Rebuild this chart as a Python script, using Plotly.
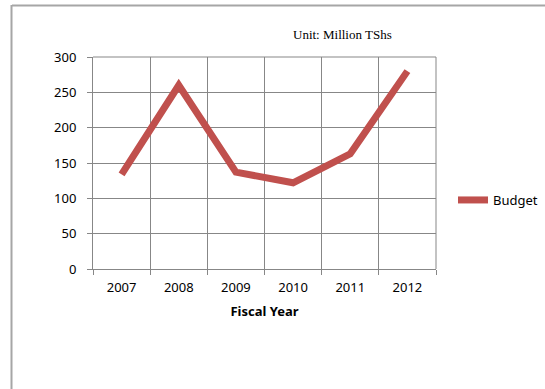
import plotly.graph_objects as go

years = ["2007", "2008", "2009", "2010", "2011", "2012"]
budget = [134, 260, 137, 122, 163, 280]
y_ticks = [0, 50, 100, 150, 200, 250, 300]

W, H = 545, 389
L, R, T, B = 93, 109, 57, 120
pw, ph = W - L - R, H - T - B
LEG_X = 453

def px_x(p):
    return (p - L) / pw

def px_y(p):
    return (H - B - p) / ph

fig = go.Figure()
fig.add_trace(go.Scatter(
    x=years, y=budget, mode="lines", name="Budget",
    line=dict(color="#C0504D", width=7),
))

grid = "#878787"
fig.update_layout(
    width=W, height=H,
    margin=dict(l=L, r=R, t=T, b=B),
    paper_bgcolor="white", plot_bgcolor="white",
    font=dict(family="Noto Sans", size=13, color="black"),
    showlegend=True,
    legend=dict(xref="container", yref="container",
                x=LEG_X / W, y=(H - 200) / H, xanchor="left", yanchor="middle",
                font=dict(size=13), bgcolor="rgba(0,0,0,0)",
                itemwidth=30),
    xaxis=dict(type="category", tickson="boundaries", showgrid=True,
               range=[-0.5, len(years) - 0.5],
               gridcolor=grid, gridwidth=1, showline=True, linecolor=grid,
               ticks="outside", ticklen=5, tickcolor=grid, mirror=False,
               ticklabelstandoff=6,
               title=dict(text="<b>Fiscal Year</b>", font=dict(size=13), standoff=12),
               tickfont=dict(size=13)),
    yaxis=dict(range=[0, 300], tickvals=y_ticks, showgrid=True,
               gridcolor=grid, gridwidth=1, showline=True, linecolor=grid,
               ticks="outside", ticklen=5, tickcolor=grid, zeroline=False,
               ticklabelstandoff=8,
               tickfont=dict(size=13)),
    annotations=[dict(text="Unit: Million TShs", x=px_x(342), y=px_y(35),
                      xref="paper", yref="paper", showarrow=False,
                      xanchor="center", yanchor="middle",
                      font=dict(family="Liberation Serif", size=13, color="black"))],
    shapes=[
        dict(type="line", xref="paper", yref="paper", x0=px_x(12), x1=px_x(560),
             y0=px_y(5.5), y1=px_y(5.5), line=dict(color="#A6A6A6", width=2)),
        dict(type="line", xref="paper", yref="paper", x0=px_x(11.5), x1=px_x(11.5),
             y0=px_y(5), y1=px_y(400), line=dict(color="#A6A6A6", width=2)),
        dict(type="line", xref="paper", yref="paper", x0=1, x1=1, y0=0, y1=1,
             line=dict(color=grid, width=1)),
        dict(type="line", xref="paper", yref="paper", x0=0, x1=1, y0=1, y1=1,
             line=dict(color=grid, width=1)),
    ],
)

fig.write_html("out.html")
